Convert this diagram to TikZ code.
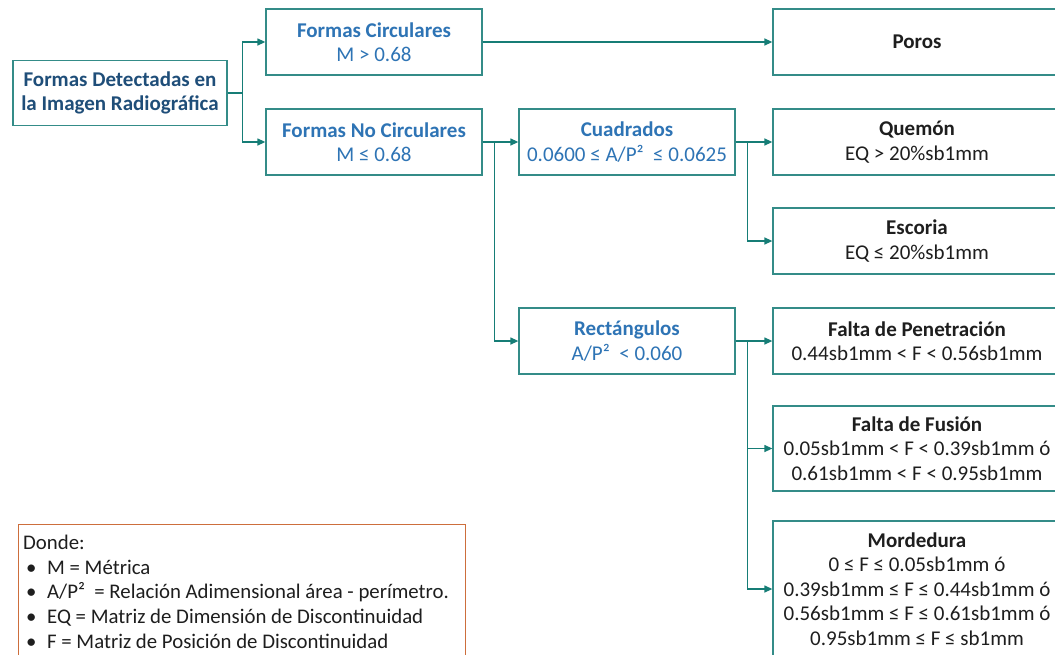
\documentclass[tikz,border=0pt]{standalone}
\usepackage{fontspec}
\setmainfont{Carlito}
\usetikzlibrary{arrows.meta}
\definecolor{linkteal}{RGB}{22,125,118}
\definecolor{boxteal}{RGB}{52,140,136}
\definecolor{headblue}{RGB}{31,78,121}
\definecolor{textblue}{RGB}{46,116,181}
\definecolor{darktext}{RGB}{30,30,30}
\definecolor{legendedge}{RGB}{205,110,60}
\begin{document}
\begin{tikzpicture}[x=1pt,y=-1pt,
  box/.style={draw=boxteal, line width=1.3pt, fill=white, align=center,
    inner sep=0pt, font=\fontsize{21}{24.5}\selectfont},
  leftbox/.style={box, minimum width=216, minimum height=66, text=textblue},
  rightbox/.style={box, minimum width=288, minimum height=66, text=darktext},
  link/.style={draw=linkteal, line width=1.3pt},
  arrow/.style={link, -{Triangle[length=8pt,width=7pt]}}
]
\clip (0,0) rectangle (1055,654);
\fill[white] (0,0) rectangle (1055,654);

% first level
\node[box, minimum width=214, minimum height=65, text=headblue] (root) at (120,93)
  {\textbf{Formas Detectadas en}\\\textbf{la Imagen Radiográfica}};

% second level
\node[leftbox] (circ) at (374,42) {\textbf{Formas Circulares}\\M > 0.68};
\node[leftbox] (nocirc) at (374,142) {\textbf{Formas No Circulares}\\M ≤ 0.68};

% third level
\node[leftbox] (cuad) at (627,142) {\textbf{Cuadrados}\\0.0600 ≤ A/P²~~≤ 0.0625};
\node[leftbox] (rect) at (627,341) {\textbf{Rectángulos}\\A/P²~~< 0.060};

% discontinuity classes
\node[rightbox] (poros) at (917,42) {\textbf{Poros}};
\node[rightbox] (quemon) at (917,142) {\textbf{Quemón}\\EQ > 20\%sb1mm};
\node[rightbox] (escoria) at (917,241) {\textbf{Escoria}\\EQ ≤ 20\%sb1mm};
\node[rightbox] (penet) at (917,341)
  {\textbf{Falta de Penetración}\\0.44sb1mm < F < 0.56sb1mm};
\node[rightbox, minimum height=85] (fusion) at (917,448.5)
  {\textbf{Falta de Fusión}\\0.05sb1mm < F < 0.39sb1mm ó\\0.61sb1mm < F < 0.95sb1mm};
\node[rightbox, minimum height=136] (morde) at (917,589)
  {\textbf{Mordedura}\\0 ≤ F ≤ 0.05sb1mm ó\\0.39sb1mm ≤ F ≤ 0.44sb1mm ó\\
   0.56sb1mm ≤ F ≤ 0.61sb1mm ó\\0.95sb1mm ≤ F ≤ sb1mm};

% connectors
\draw[arrow] (root.east) -- ++(15,0) |- (circ.west);
\draw[arrow] (root.east) -- ++(15,0) |- (nocirc.west);
\draw[arrow] (circ.east) -- (poros.west);
\draw[arrow] (nocirc.east) -- (cuad.west);
\draw[arrow] (nocirc.east) -- ++(12,0) |- (rect.west);
\draw[arrow] (cuad.east) -- (quemon.west);
\draw[arrow] (cuad.east) -- ++(12,0) |- (escoria.west);
\draw[arrow] (rect.east) -- (penet.west);
\draw[arrow] (rect.east) -- ++(12,0) |- (fusion.west);
\draw[arrow] (rect.east) -- ++(12,0) |- (morde.west);

% legend
\draw[legendedge, line width=1pt, fill=white] (18,524) rectangle (465,680);
\node[anchor=north west, inner sep=0pt, align=left, text=darktext,
  font=\fontsize{20.8}{24.6}\selectfont] (legend) at (23,535)
  {Donde:\\
   \makebox[24pt][l]{\hspace{3pt}•}M = Métrica\\
   \makebox[24pt][l]{\hspace{3pt}•}A/P²~~= Relación Adimensional área - perímetro.\\
   \makebox[24pt][l]{\hspace{3pt}•}EQ = Matriz de Dimensión de Discontinuidad\\
   \makebox[24pt][l]{\hspace{3pt}•}F = Matriz de Posición de Discontinuidad};
\end{tikzpicture}
\end{document}
